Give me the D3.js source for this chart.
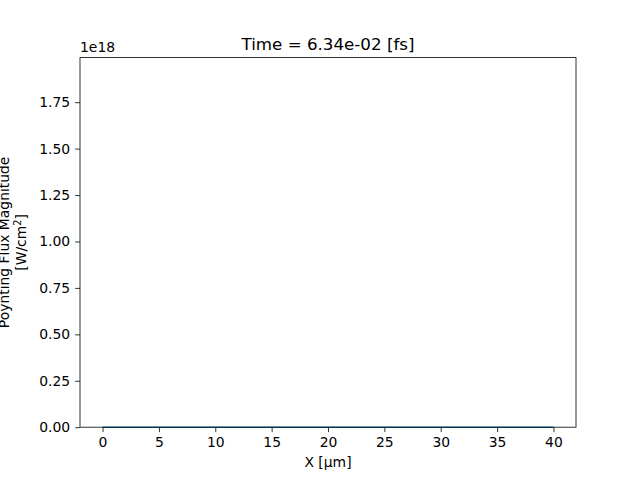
<!DOCTYPE html>
<html><head><meta charset="utf-8">
<script src="https://cdn.jsdelivr.net/npm/d3@7"></script>
<style>body{margin:0;background:#fff}svg{font-family:"DejaVu Sans",sans-serif}</style>
</head><body>
<script>
const titleText = "Time = 6.34e-02 [fs]";
const xs = [0, 40];
const ys = [0, 0];
const xTicks = [0, 5, 10, 15, 20, 25, 30, 35, 40];
const yTicks = [0, 0.25e18, 0.5e18, 0.75e18, 1.0e18, 1.25e18, 1.5e18, 1.75e18];
const xDomain = [-2, 42];
const yDomain = [0, 1.99e18];

const W = 640, H = 480;
const L = 80, R = 576, T = 57.6, B = 427.2;
const svg = d3.select("body").append("svg").attr("width", W).attr("height", H);
svg.append("rect").attr("width", W).attr("height", H).attr("fill", "#fff");

const x = d3.scaleLinear().domain(xDomain).range([L, R]);
const y = d3.scaleLinear().domain(yDomain).range([B, T]);

const fs = 13.9;
const xAxis = svg.append("g").attr("transform", `translate(0,${B})`)
  .call(d3.axisBottom(x).tickValues(xTicks).tickSize(4.9).tickPadding(4.9).tickFormat(d3.format("d")));
const yAxis = svg.append("g").attr("transform", `translate(${L},0)`)
  .call(d3.axisLeft(y).tickValues(yTicks).tickSize(4.9).tickPadding(4.9).tickFormat(d => (d / 1e18).toFixed(2)));
[xAxis, yAxis].forEach(g => {
  g.select(".domain").remove();
  g.selectAll("line").attr("stroke", "#000").attr("stroke-width", 0.8);
  g.selectAll("text").attr("font-family", "DejaVu Sans").attr("font-size", fs).attr("fill", "#000");
});

// line
svg.append("path").datum(xs.map((v, i) => [v, ys[i]]))
  .attr("d", d3.line().x(d => x(d[0])).y(d => y(d[1])))
  .attr("fill", "none").attr("stroke", "#1f77b4").attr("stroke-width", 1.5);

// frame
svg.append("rect").attr("x", L).attr("y", T).attr("width", R - L).attr("height", B - T)
  .attr("fill", "none").attr("stroke", "#000").attr("stroke-width", 0.8);

// title
svg.append("text").attr("x", (L + R) / 2).attr("y", T - 8).attr("text-anchor", "middle")
  .attr("font-size", 16.7).text(titleText);
// offset text
svg.append("text").attr("x", L).attr("y", T - 6).attr("font-size", fs).text("1e18");
// x label
svg.append("text").attr("x", (L + R) / 2).attr("y", 467).attr("text-anchor", "middle")
  .attr("font-size", fs).text("X [µm]");
// y label
const cy = (T + B) / 2;
const yl = svg.append("text").attr("transform", `translate(9,${cy}) rotate(-90)`)
  .attr("text-anchor", "middle").attr("font-size", fs);
yl.append("tspan").attr("x", 0).attr("dy", 0).text("Poynting Flux Magnitude");
const l2 = yl.append("tspan").attr("x", 0).attr("dy", 17).text("[W/cm");
yl.append("tspan").attr("font-size", fs * 0.7).attr("dy", -5).text("2");
yl.append("tspan").attr("dy", 5).text("]");
</script>
</body></html>
